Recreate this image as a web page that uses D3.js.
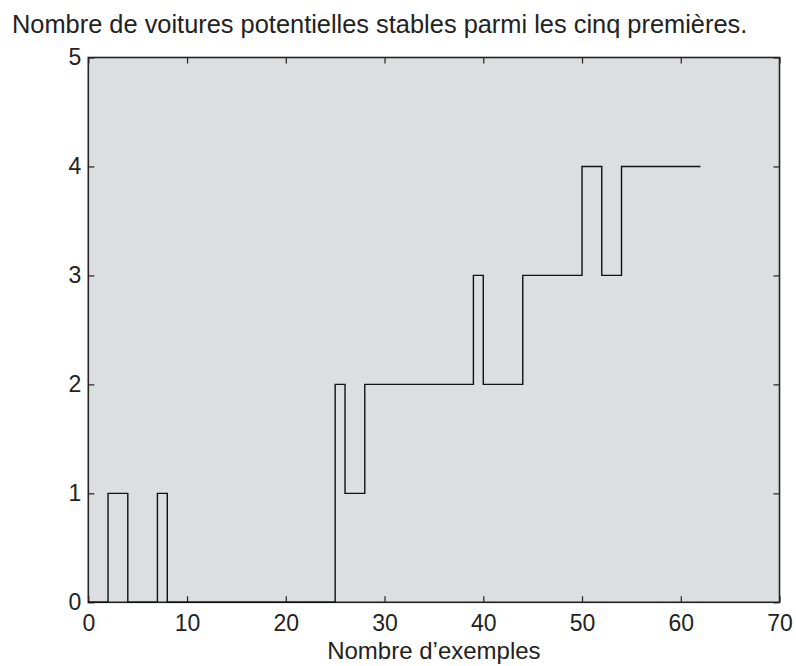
<!DOCTYPE html>
<html>
<head>
<meta charset="utf-8">
<script src="https://cdn.jsdelivr.net/npm/d3@7"></script>
<style>
  html, body { margin: 0; padding: 0; background: #ffffff; }
  svg { display: block; font-family: "Liberation Sans", Arial, sans-serif; }
</style>
</head>
<body>
<svg id="chart" width="796" height="666"></svg>
<script>
// Number of stable candidate cars among the first five, per number of examples
const changeX = [0, 2, 4, 7, 8, 25, 26, 28, 39, 40, 44, 50, 52, 54, 62];
const changeY = [0, 1, 0, 1, 0, 2, 1, 2, 3, 2, 3, 4, 3, 4, 4];
const xTicks = [0, 10, 20, 30, 40, 50, 60, 70];
const yTicks = [0, 1, 2, 3, 4, 5];
const titleText = "Nombre de voitures potentielles stables parmi les cinq premières.";
const xLabel = "Nombre d\u2019exemples";

const svg = d3.select("#chart");
const W = 796, H = 666;
const margin = { left: 88.3, right: W - 779.5, top: 57.5, bottom: H - 602.3 };

const x = d3.scaleLinear().domain([0, 70]).range([margin.left, W - margin.right]);
const y = d3.scaleLinear().domain([0, 5]).range([H - margin.bottom, margin.top]);

// plot background
svg.append("rect")
  .attr("x", x(0)).attr("y", y(5))
  .attr("width", x(70) - x(0)).attr("height", y(0) - y(5))
  .attr("fill", "#dddee0");

const tickLen = 6;
const fmt = d3.format("d");
const axisStyle = g => {
  g.attr("font-size", 23).attr("font-family", "Liberation Sans, Arial, sans-serif");
  g.select(".domain").remove();
  g.selectAll(".tick line").attr("stroke", "#222").attr("stroke-width", 1.2);
  g.selectAll(".tick text").attr("fill", "#222");
};

// bottom axis (ticks inward)
svg.append("g")
  .attr("transform", `translate(0,${y(0)})`)
  .call(d3.axisBottom(x).tickValues(xTicks).tickFormat(fmt)
    .tickSizeInner(-tickLen).tickSizeOuter(0).tickPadding(12))
  .call(axisStyle);

// top axis, ticks only
svg.append("g")
  .attr("transform", `translate(0,${y(5)})`)
  .call(d3.axisTop(x).tickValues(xTicks).tickSizeInner(-tickLen).tickSizeOuter(0).tickFormat(""))
  .call(axisStyle);

// left axis
svg.append("g")
  .attr("transform", `translate(${x(0)},0)`)
  .call(d3.axisLeft(y).tickValues(yTicks).tickFormat(fmt)
    .tickSizeInner(-tickLen).tickSizeOuter(0).tickPadding(7))
  .call(axisStyle);

// right axis, ticks only
svg.append("g")
  .attr("transform", `translate(${x(70)},0)`)
  .call(d3.axisRight(y).tickValues(yTicks).tickSizeInner(-tickLen).tickSizeOuter(0).tickFormat(""))
  .call(axisStyle);

// frame
svg.append("rect")
  .attr("x", x(0)).attr("y", y(5))
  .attr("width", x(70) - x(0)).attr("height", y(0) - y(5))
  .attr("fill", "none").attr("stroke", "#222").attr("stroke-width", 1.6);

// step line
const pts = changeX.map((v, i) => [v, changeY[i]]);
svg.append("path")
  .datum(pts)
  .attr("fill", "none")
  .attr("stroke", "#111")
  .attr("stroke-width", 1.4)
  .attr("d", d3.line().x(d => x(d[0])).y(d => y(d[1])).curve(d3.curveStepAfter));

// title
svg.append("text")
  .attr("x", 12).attr("y", 33)
  .attr("font-size", 25.4).attr("fill", "#222")
  .text(titleText);

// x label
svg.append("text")
  .attr("x", (x(0) + x(70)) / 2).attr("y", 659)
  .attr("text-anchor", "middle")
  .attr("font-size", 24).attr("fill", "#222")
  .text(xLabel);
</script>
</body>
</html>
